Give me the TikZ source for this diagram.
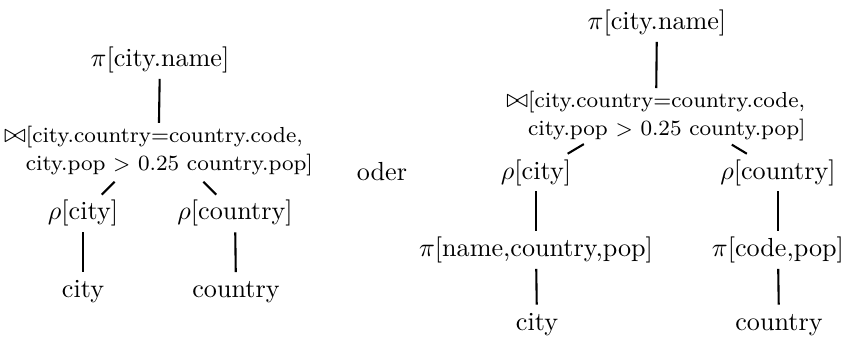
\documentclass[tikz,border=0pt]{standalone}
\usepackage{tikz}

\newcommand{\joinsym}{{\fontsize{10}{10.7}\selectfont$\bowtie$}}

\begin{document}
\begin{tikzpicture}[
    x=1cm,y=1cm,
	op/.style={inner sep=2pt, text height=7.5pt, text depth=2.5pt},
	joinbox/.style={font=\fontsize{8.33}{10.7}\selectfont, align=left, inner sep=1pt},
	edge/.style={thick}
]
\useasboundingbox (0,0) rectangle (11.348,-4.571);

% first plan
\node[op] (lpi) at (2.151,-0.807) {$\pi$[city.name]};
\node[joinbox] (ljoin) at (2.131,-2.030) {\joinsym[city.country=country.code,\\\phantom{\joinsym}city.pop $>$ 0.25 country.pop]};
\coordinate (ljoinc) at (2.138,-1.849); % first line of the join
\node[op] (lrcity) at (1.116,-2.870) {$\rho$[city]};
\node[op] (lrcountry) at (3.160,-2.870) {$\rho$[country]};
\node[op] (lcity) at (1.116,-3.912) {city};
\node[op] (lcountry) at (3.173,-3.912) {country};

\draw[edge] (lpi) -- (ljoin);
\draw[edge, shorten <=24pt] (ljoinc) -- (lrcity);
\draw[edge, shorten <=24pt] (ljoinc) -- (lrcountry);
\draw[edge] (lrcity) -- (lcity);
\draw[edge] (lrcountry) -- (lcountry);

\node (oder) at (5.136,-2.313) {oder};

% second plan, projections pushed down
\node[op] (rpi) at (8.833,-0.310) {$\pi$[city.name]};
\node[joinbox] (rjoin) at (8.820,-1.560) {\joinsym[city.country=country.code,\\\phantom{\joinsym}city.pop $>$ 0.25 county.pop]};
\coordinate (rjoinc) at (8.847,-1.345);
\node[op] (rrcity) at (7.207,-2.320) {$\rho$[city]};
\node[op] (rrcountry) at (10.460,-2.320) {$\rho$[country]};
\node[op] (rpname) at (7.207,-3.361) {$\pi$[name,country,pop]};
\node[op] (rpcode) at (10.460,-3.361) {$\pi$[code,pop]};
\node[op] (rcity) at (7.220,-4.350) {city};
\node[op] (rcountry) at (10.474,-4.350) {country};

\draw[edge] (rpi) -- (rjoin);
\draw[edge, shorten <=33pt] (rjoinc) -- (rrcity);
\draw[edge, shorten <=33pt] (rjoinc) -- (rrcountry);
\draw[edge] (rrcity) -- (rpname);
\draw[edge] (rrcountry) -- (rpcode);
\draw[edge] (rpname) -- (rcity);
\draw[edge] (rpcode) -- (rcountry);
\end{tikzpicture}
\end{document}
